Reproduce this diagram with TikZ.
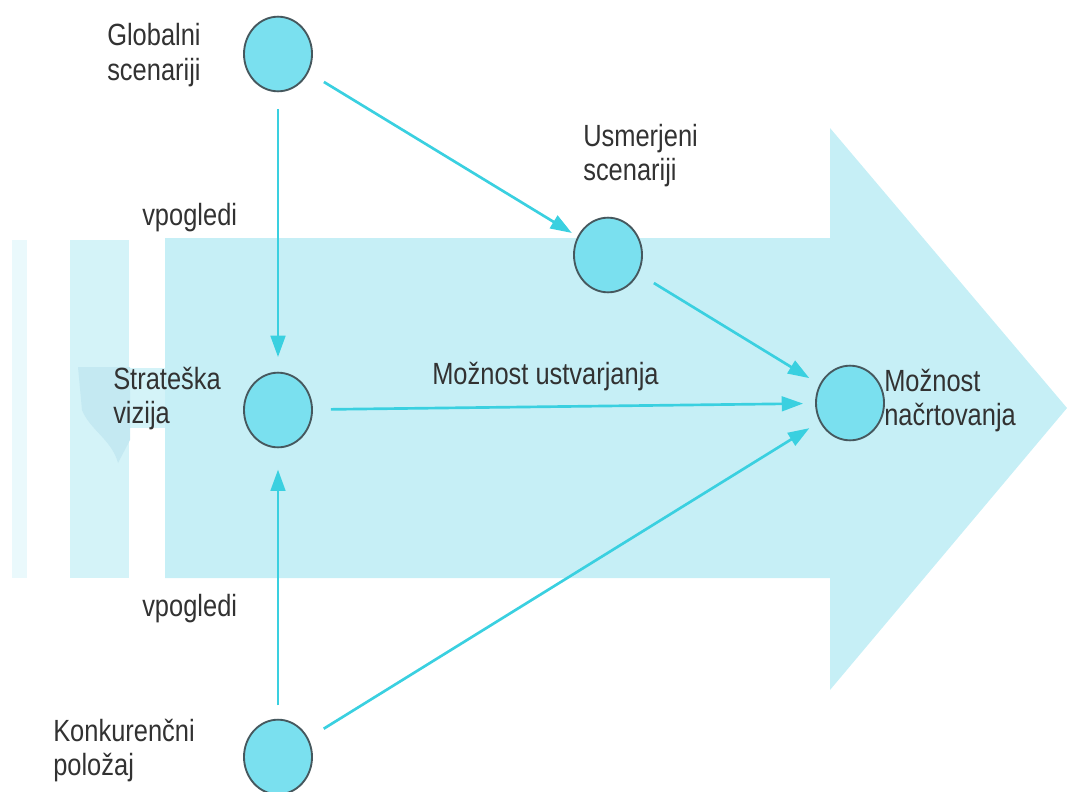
\documentclass[tikz,border=0pt]{standalone}
\usepackage{fontspec}
\setmainfont{Liberation Sans}[FakeStretch=0.83]
\usetikzlibrary{arrows.meta,shapes.geometric}

\definecolor{bodyfill}{RGB}{198,239,246}
\definecolor{stripeA}{RGB}{234,249,252}
\definecolor{stripeB}{RGB}{212,243,248}
\definecolor{blobfill}{RGB}{196,233,242}
\definecolor{dotfill}{RGB}{122,224,239}
\definecolor{dotline}{RGB}{70,88,94}
\definecolor{link}{RGB}{58,208,224}
\definecolor{txt}{RGB}{50,50,50}

\tikzset{
  dot/.style={ellipse, draw=dotline, line width=1.4pt, fill=dotfill,
              minimum width=51pt, minimum height=56pt, inner sep=0pt},
  lbl/.style={text=txt, inner sep=0pt, anchor=base west, align=left,
              font=\fontsize{23pt}{25.5pt}\selectfont},
  flow/.style={draw=link, line width=2pt,
               -{Triangle[length=16pt,width=11pt]},
               shorten <=13.5pt, shorten >=9pt},
}

\begin{document}
\begin{tikzpicture}[x=0.75pt,y=-0.75pt]
\useasboundingbox (0,0) rectangle (1067,792);

% broad background arrow with its trailing stripes
\fill[stripeA] (12,240) rectangle (27,578);
\fill[stripeB] (70,240) rectangle (129,578);
\fill[stripeB] (128,368) rectangle (168,428);
\fill[blobfill] (78,367) -- (130,367) -- (130,440) -- (118,463)
   .. controls (112,440) and (90,430) .. (82,410) -- cycle;
\fill[bodyfill] (165,238) -- (830,238) -- (830,128) -- (1067,408)
   -- (830,690) -- (830,578) -- (165,578) -- cycle;

% stages
\node[dot] (glob) at (278,54) {};
\node[dot] (usm)  at (608,255) {};
\node[dot] (strat) at (278,410) {};
\node[dot] (konk) at (278,757) {};
\node[dot] (nacrt) at (850,403) {};

% captions (two-line captions are placed by the baseline of their last line)
\node[lbl] (tglob)  at (107,80)  {Globalni\\scenariji};
\node[lbl] (tvp1)   at (142,225) {vpogledi};
\node[lbl] (tusm)   at (583,180) {Usmerjeni\\scenariji};
\node[lbl] (tstrat) at (113,423) {Strateška\\vizija};
\node[lbl] (tust)   at (432,384) {Možnost ustvarjanja};
\node[lbl] (tnacrt) at (884,425) {Možnost\\načrtovanja};
\node[lbl] (tvp2)   at (142,616) {vpogledi};
\node[lbl] (tkonk)  at (53,775)  {Konkurenčni\\položaj};

% links between stages
\draw[flow, shorten <=12.5pt, shorten >=11pt] (glob) -- (strat);
\draw[flow, shorten >=5pt] (glob) -- (usm);
\draw[flow] (usm) -- (nacrt);
\draw[flow] (strat) -- (nacrt);
\draw[flow, shorten <=10pt, shorten >=16pt] (konk) -- (strat);
\draw[flow] (konk) -- (nacrt);
\end{tikzpicture}
\end{document}
